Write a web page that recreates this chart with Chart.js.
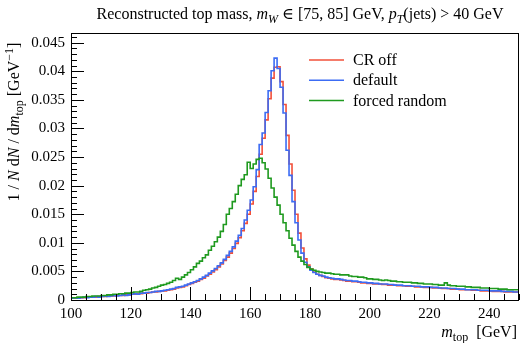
<!DOCTYPE html>
<html>
<head>
<meta charset="utf-8">
<script src="https://cdn.jsdelivr.net/npm/chart.js@4.4.0/dist/chart.umd.min.js"></script>
<style>
  html, body { margin: 0; padding: 0; background: #fff; }
</style>
</head>
<body>
<canvas id="topMassChart" width="520" height="343"></canvas>
<script>
// histogram bins: 1 GeV wide, first bin starts at 100 GeV
const binStart = 100;
const binWidth = 1;

const crOff = [
    0.0003, 0.0003, 0.0003, 0.0004, 0.0004, 0.0004, 0.0005, 0.0005, 0.0005, 0.0005,
    0.0006, 0.0006, 0.0006, 0.0007, 0.0007, 0.0007, 0.0008, 0.0008, 0.0008, 0.0009,
    0.0009, 0.0010, 0.0010, 0.0011, 0.0011, 0.0012, 0.0012, 0.0013, 0.0014, 0.0014,
    0.0015, 0.0016, 0.0016, 0.0017, 0.0018, 0.0019, 0.0021, 0.0022, 0.0023, 0.0025,
    0.0027, 0.0029, 0.0031, 0.0033, 0.0036, 0.0038, 0.0042, 0.0045, 0.0049, 0.0053,
    0.0058, 0.0063, 0.0069, 0.0075, 0.0082, 0.0090, 0.0099, 0.0109, 0.0121, 0.0134,
    0.0150, 0.0168, 0.0190, 0.0216, 0.0255, 0.0283, 0.0315, 0.0352, 0.0388, 0.0407,
    0.0408, 0.0382, 0.0342, 0.0288, 0.0238, 0.0192, 0.0150, 0.0117, 0.0091, 0.0072,
    0.0061, 0.0054, 0.0049, 0.0045, 0.0043, 0.0041, 0.0039, 0.0038, 0.0037, 0.0036,
    0.0036, 0.0035, 0.0034, 0.0033, 0.0033, 0.0032, 0.0032, 0.0031, 0.0030, 0.0030,
    0.0029, 0.0029, 0.0028, 0.0028, 0.0028, 0.0027, 0.0027, 0.0026, 0.0026, 0.0026,
    0.0025, 0.0025, 0.0025, 0.0024, 0.0024, 0.0024, 0.0023, 0.0023, 0.0023, 0.0022,
    0.0022, 0.0022, 0.0021, 0.0021, 0.0021, 0.0020, 0.0020, 0.0020, 0.0019, 0.0019,
    0.0019, 0.0018, 0.0018, 0.0018, 0.0018, 0.0017, 0.0017, 0.0017, 0.0016, 0.0016,
    0.0016, 0.0016, 0.0015, 0.0015, 0.0015, 0.0015, 0.0014, 0.0014, 0.0014, 0.0014
];

const defaultCR = [
    0.0003, 0.0003, 0.0004, 0.0003, 0.0004, 0.0005, 0.0004, 0.0005, 0.0005, 0.0006,
    0.0005, 0.0006, 0.0007, 0.0006, 0.0007, 0.0008, 0.0007, 0.0008, 0.0009, 0.0008,
    0.0009, 0.0010, 0.0011, 0.0010, 0.0012, 0.0012, 0.0013, 0.0013, 0.0014, 0.0015,
    0.0015, 0.0016, 0.0017, 0.0018, 0.0019, 0.0020, 0.0022, 0.0023, 0.0024, 0.0026,
    0.0028, 0.0030, 0.0032, 0.0034, 0.0037, 0.0040, 0.0043, 0.0047, 0.0051, 0.0055,
    0.0060, 0.0065, 0.0071, 0.0078, 0.0085, 0.0093, 0.0103, 0.0113, 0.0125, 0.0140,
    0.0157, 0.0175, 0.0198, 0.0228, 0.0272, 0.0292, 0.0328, 0.0366, 0.0401, 0.0423,
    0.0405, 0.0372, 0.0327, 0.0262, 0.0218, 0.0172, 0.0135, 0.0105, 0.0082, 0.0066,
    0.0058, 0.0052, 0.0048, 0.0045, 0.0043, 0.0042, 0.0040, 0.0039, 0.0038, 0.0037,
    0.0037, 0.0036, 0.0035, 0.0034, 0.0034, 0.0033, 0.0033, 0.0032, 0.0031, 0.0031,
    0.0030, 0.0030, 0.0029, 0.0029, 0.0028, 0.0028, 0.0028, 0.0027, 0.0027, 0.0026,
    0.0026, 0.0026, 0.0025, 0.0025, 0.0025, 0.0024, 0.0024, 0.0024, 0.0023, 0.0023,
    0.0023, 0.0022, 0.0022, 0.0022, 0.0021, 0.0021, 0.0021, 0.0020, 0.0020, 0.0020,
    0.0019, 0.0019, 0.0019, 0.0018, 0.0018, 0.0018, 0.0018, 0.0017, 0.0017, 0.0017,
    0.0017, 0.0016, 0.0016, 0.0016, 0.0016, 0.0015, 0.0015, 0.0015, 0.0015, 0.0014
];

const forcedRandom = [
    0.0003, 0.0004, 0.0004, 0.0005, 0.0005, 0.0005, 0.0006, 0.0006, 0.0007, 0.0007,
    0.0007, 0.0008, 0.0008, 0.0009, 0.0009, 0.0010, 0.0010, 0.0011, 0.0011, 0.0012,
    0.0012, 0.0013, 0.0014, 0.0014, 0.0015, 0.0017, 0.0018, 0.0019, 0.0021, 0.0022,
    0.0024, 0.0026, 0.0027, 0.0029, 0.0031, 0.0034, 0.0038, 0.0036, 0.0040, 0.0044,
    0.0048, 0.0053, 0.0058, 0.0064, 0.0068, 0.0074, 0.0079, 0.0087, 0.0094, 0.0102,
    0.0110, 0.0120, 0.0132, 0.0150, 0.0160, 0.0172, 0.0185, 0.0200, 0.0211, 0.0219,
    0.0241, 0.0230, 0.0238, 0.0246, 0.0248, 0.0240, 0.0229, 0.0213, 0.0196, 0.0180,
    0.0166, 0.0150, 0.0135, 0.0121, 0.0108, 0.0096, 0.0085, 0.0075, 0.0068, 0.0062,
    0.0057, 0.0054, 0.0052, 0.0050, 0.0049, 0.0048, 0.0047, 0.0047, 0.0046, 0.0045,
    0.0045, 0.0044, 0.0044, 0.0044, 0.0042, 0.0041, 0.0041, 0.0040, 0.0040, 0.0039,
    0.0037, 0.0037, 0.0036, 0.0036, 0.0035, 0.0034, 0.0035, 0.0034, 0.0033, 0.0033,
    0.0032, 0.0032, 0.0031, 0.0031, 0.0031, 0.0030, 0.0030, 0.0029, 0.0029, 0.0028,
    0.0028, 0.0028, 0.0027, 0.0027, 0.0026, 0.0026, 0.0030, 0.0026, 0.0025, 0.0025,
    0.0024, 0.0024, 0.0024, 0.0023, 0.0023, 0.0022, 0.0022, 0.0022, 0.0021, 0.0021,
    0.0021, 0.0020, 0.0020, 0.0020, 0.0019, 0.0019, 0.0019, 0.0018, 0.0018, 0.0018
];

const xTickValues = [100, 120, 140, 160, 180, 200, 220, 240];
const yTickValues = [0, 0.005, 0.01, 0.015, 0.02, 0.025, 0.03, 0.035, 0.04, 0.045];

const seriesNames = ['CR off', 'default', 'forced random'];
const seriesColors = ['#f2503a', '#3c6cf4', '#1f9a1f'];

const SERIF = '"Liberation Serif", "DejaVu Serif", serif';

// turn bin contents into step points (left edges + closing right edge)
function toSteps(values) {
    const pts = values.map((v, i) => ({ x: binStart + i * binWidth, y: v }));
    pts.push({ x: binStart + values.length * binWidth, y: values[values.length - 1] });
    return pts;
}

// draw text made of pieces: i = italic, s = subscript, u = superscript
function drawRich(ctx, parts, x, y, align, size) {
    const fontFor = p => `${p.i ? 'italic ' : ''}${(p.s || p.u) ? Math.round(size * 0.72) : size}px ${SERIF}`;
    let total = 0;
    parts.forEach(p => { ctx.font = fontFor(p); total += ctx.measureText(p.t).width; });
    let cx = align === 'center' ? x - total / 2 : align === 'right' ? x - total : x;
    parts.forEach(p => {
        ctx.font = fontFor(p);
        const dy = p.s ? size * 0.22 : p.u ? -size * 0.38 : 0;
        ctx.fillText(p.t, cx, y + dy);
        cx += ctx.measureText(p.t).width;
    });
}

const decorations = {
    id: 'decorations',
    afterDraw(chart) {
        const { ctx, chartArea: a, scales } = chart;
        const xs = scales.x, ys = scales.y;
        ctx.save();
        ctx.strokeStyle = '#000';
        ctx.fillStyle = '#000';
        ctx.lineWidth = 1;

        // frame
        ctx.strokeRect(Math.round(a.left) + 0.5, Math.round(a.top) + 0.5,
            Math.round(a.right - a.left) - 1, Math.round(a.bottom - a.top));

        // inward ticks
        ctx.beginPath();
        for (let v = 100; v <= 250; v += 5) {
            const px = Math.round(xs.getPixelForValue(v)) + 0.5;
            const len = xTickValues.includes(v) ? 13 : 6;
            ctx.moveTo(px, a.bottom);
            ctx.lineTo(px, a.bottom - len);
        }
        for (let k = 0; k <= 46; k++) {
            const v = k * 0.001;
            const py = Math.round(ys.getPixelForValue(v)) + 0.5;
            const len = k % 5 === 0 ? 13 : 6;
            ctx.moveTo(a.left, py);
            ctx.lineTo(a.left + len, py);
        }
        ctx.stroke();

        ctx.textBaseline = 'alphabetic';

        // title
        drawRich(ctx, [
            { t: 'Reconstructed top mass, ' },
            { t: 'm', i: true }, { t: 'W', i: true, s: true },
            { t: ' \u2208 [75, 85] GeV, ' },
            { t: 'p', i: true }, { t: 'T', i: true, s: true },
            { t: '(jets) > 40 GeV' }
        ], 300, 19, 'center', 16);

        // x-axis title
        drawRich(ctx, [
            { t: 'm', i: true }, { t: 'top', s: true }, { t: '  [GeV]' }
        ], a.right - 2, 337, 'right', 16);

        // y-axis title
        ctx.save();
        ctx.translate(19, 122);
        ctx.rotate(-Math.PI / 2);
        drawRich(ctx, [
            { t: '1 / ' }, { t: 'N', i: true }, { t: ' d' }, { t: 'N', i: true },
            { t: ' / d' }, { t: 'm', i: true }, { t: 'top', s: true },
            { t: ' [GeV' }, { t: '\u22121', u: true }, { t: ']' }
        ], 0, 0, 'center', 16);
        ctx.restore();

        // legend
        ctx.font = `16px ${SERIF}`;
        seriesNames.forEach((name, i) => {
            const ly = 60 + i * 20.3;
            ctx.strokeStyle = seriesColors[i];
            ctx.lineWidth = 1.5;
            ctx.beginPath();
            ctx.moveTo(309, ly);
            ctx.lineTo(344, ly);
            ctx.stroke();
            ctx.fillStyle = '#000';
            ctx.fillText(name, 353, ly + 5);
        });
        ctx.restore();
    }
};

const tickFont = { family: SERIF, size: 15 };

new Chart('topMassChart', {
    type: 'line',
    data: {
        datasets: [
            { label: seriesNames[2], data: toSteps(forcedRandom), borderColor: seriesColors[2], order: 0 },
            { label: seriesNames[1], data: toSteps(defaultCR), borderColor: seriesColors[1], order: 1 },
            { label: seriesNames[0], data: toSteps(crOff), borderColor: seriesColors[0], order: 2 }
        ].map(ds => Object.assign(ds, {
            stepped: 'after',
            borderWidth: 1.6,
            pointRadius: 0,
            fill: false
        }))
    },
    options: {
        responsive: false,
        animation: false,
        layout: { padding: { top: 33, right: 1, left: 0, bottom: 0 } },
        plugins: {
            legend: { display: false },
            title: { display: false },
            tooltip: { enabled: false }
        },
        scales: {
            x: {
                type: 'linear',
                min: 100,
                max: 250,
                grid: { display: false, drawTicks: false },
                border: { display: false },
                ticks: { font: tickFont, color: '#000', padding: 5, maxRotation: 0, autoSkip: false },
                afterBuildTicks: s => { s.ticks = xTickValues.map(v => ({ value: v })); },
                afterFit: s => { s.height = 43; }
            },
            y: {
                type: 'linear',
                min: 0,
                max: 0.0467,
                grid: { display: false, drawTicks: false },
                border: { display: false },
                ticks: {
                    font: tickFont, color: '#000', padding: 6, autoSkip: false,
                    callback: v => String(v)
                },
                afterBuildTicks: s => { s.ticks = yTickValues.map(v => ({ value: v })); },
                afterFit: s => { s.width = 71; }
            }
        }
    },
    plugins: [decorations]
});
</script>
</body>
</html>
